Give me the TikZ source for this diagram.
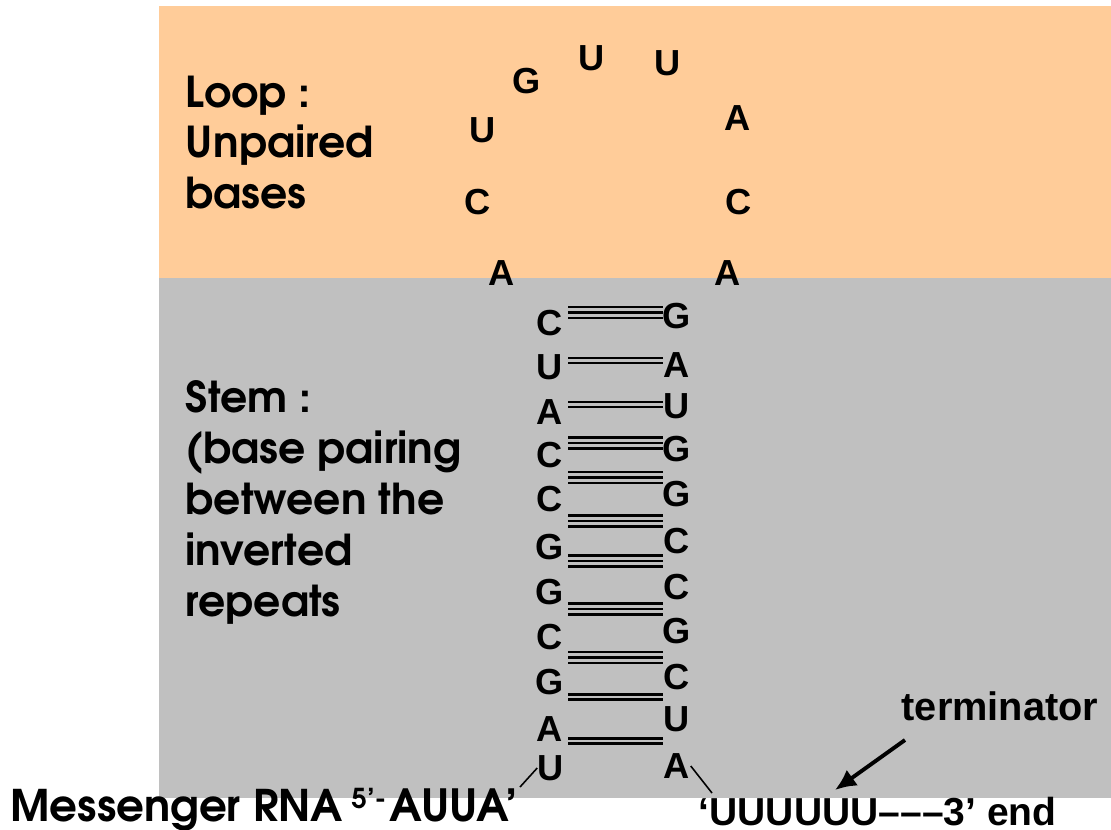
\documentclass[tikz,border=0pt]{standalone}
\usepackage{fontspec}
\setmainfont{texgyreadventor}[Extension=.otf,UprightFont=*-regular,BoldFont=*-bold]
\newfontfamily\arialfont{Liberation Sans}
\usepackage{tikz}
\usetikzlibrary{arrows.meta}
\usepackage{xcolor}

\definecolor{loopbg}{HTML}{FFCC99}
\definecolor{stembg}{HTML}{C0C0C0}

\tikzset{
  nuc/.style={inner sep=0pt,font=\arialfont\bfseries\fontsize{10.3}{10.3}\selectfont},
  side/.style={inner sep=0pt,anchor=base west,font=\bfseries\fontsize{12.1}{14}\selectfont},
  bond/.style={line width=0.7pt}
}
% three lines for G-C, two lines for A-U
\newcommand{\tribond}[1]{\draw[bond] (568,#1-5.5) -- (663,#1-5.5);
  \draw[bond] (568,#1) -- (663,#1);
  \draw[bond] (568,#1+5.5) -- (663,#1+5.5);}
\newcommand{\dibond}[1]{\draw[bond] (568,#1-2.7) -- (663,#1-2.7);
  \draw[bond] (568,#1+2.7) -- (663,#1+2.7);}

\begin{document}
\begin{tikzpicture}[x=0.01cm,y=-0.01cm]
  \useasboundingbox (0,0) rectangle (1111,829);
  \fill[loopbg] (159,6) rectangle (1111,278);
  \fill[stembg] (159,278) rectangle (1111,798);

  % side texts
  \node[side] (loop1) at (185,107) {Loop :};
  \node[side] (loop2) at (185,157) {Unpaired};
  \node[side] (loop3) at (185,208) {bases};
  \node[side] (stem1) at (185,412) {Stem :};
  \node[side] (stem2) at (185,463) {(base pairing};
  \node[side] (stem3) at (185,514) {between the};
  \node[side] (stem4) at (185,565) {inverted};
  \node[side] (stem5) at (185,616) {repeats};

  % loop
  \node[nuc] (q1) at (502,273) {A};
  \node[nuc] (q2) at (478,202) {C};
  \node[nuc] (q3) at (483,130) {U};
  \node[nuc] (q4) at (527,81) {G};
  \node[nuc] (q5) at (592,58) {U};
  \node[nuc] (q6) at (668,63) {U};
  \node[nuc] (q7) at (738,118) {A};
  \node[nuc] (q8) at (739,202) {C};
  \node[nuc] (q9) at (728,273) {A};

  % stem, left strand
  \node[nuc] (l1) at (550,323) {C};
  \node[nuc] (l2) at (550,367) {U};
  \node[nuc] (l3) at (550,412) {A};
  \node[nuc] (l4) at (550,455) {C};
  \node[nuc] (l5) at (550,499) {C};
  \node[nuc] (l6) at (550,547) {G};
  \node[nuc] (l7) at (550,592) {G};
  \node[nuc] (l8) at (550,637) {C};
  \node[nuc] (l9) at (550,682) {G};
  \node[nuc] (l10) at (550,729) {A};
  \node[nuc] (l11) at (551,768) {U};
  % stem, right strand
  \node[nuc] (r1) at (677,316) {G};
  \node[nuc] (r2) at (677,365) {A};
  \node[nuc] (r3) at (677,406) {U};
  \node[nuc] (r4) at (677,449) {G};
  \node[nuc] (r5) at (677,494) {G};
  \node[nuc] (r6) at (677,541) {C};
  \node[nuc] (r7) at (677,587) {C};
  \node[nuc] (r8) at (677,631) {G};
  \node[nuc] (r9) at (677,677) {C};
  \node[nuc] (r10) at (677,719) {U};
  \node[nuc] (r11) at (677,766) {A};

  % pairing
  \tribond{312.5}
  \dibond{360.5}
  \dibond{404.5}
  \tribond{443}
  \tribond{477.5}
  \tribond{521}
  \tribond{561}
  \tribond{609}
  \tribond{657.5}
  \dibond{697}
  \dibond{741}

  % ends of the messenger
  \node[side,font=\bfseries\fontsize{12.4}{14}\selectfont] (mrna) at (10,821) {Messenger RNA};
  \node[side,font=\bfseries\fontsize{7.8}{8}\selectfont] (five) at (351,808) {5’-};
  \node[side,font=\bfseries\fontsize{12.6}{14}\selectfont] (auua) at (389,821) {AUUA’};
  \node[nuc,anchor=base west,font=\arialfont\bfseries\fontsize{11.1}{12}\selectfont] (tail3) at (698,825)
    {‘UUUUUU–––3’ end};
  \node[nuc,anchor=base west,font=\arialfont\bfseries\fontsize{11.3}{12}\selectfont] (term) at (901,720)
    {terminator};

  \coordinate (u5) at (520,787);
  \coordinate (a3) at (712,793);
  \draw[line width=0.45pt] (u5) -- (l11.west);
  \draw[line width=0.45pt] (r11.east) -- (a3);

  \coordinate (tailpt) at (905,740);
  \coordinate (tippt) at (835,790);
  \draw[line width=1.1pt,-{Latex[length=6pt,width=5.5pt]}] (tailpt) -- (tippt);
\end{tikzpicture}
\end{document}
